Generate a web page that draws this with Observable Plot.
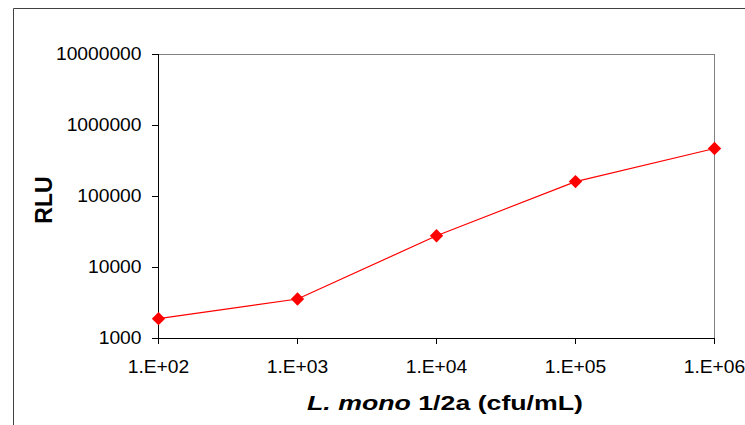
<!DOCTYPE html>
<html><head><meta charset="utf-8">
<script src="https://cdn.jsdelivr.net/npm/d3@7"></script>
<script src="https://cdn.jsdelivr.net/npm/@observablehq/plot@0.6"></script>
<style>
body{margin:0;background:#fff;overflow:hidden}
svg text{font-family:"Liberation Sans",Arial,sans-serif}
</style>
</head><body><div id="chart"></div>
<script>
const concentrations = [1e2, 1e3, 1e4, 1e5, 1e6];
const rluValues = [1900, 3600, 28000, 162000, 474000];
const xTicks = [1e2, 1e3, 1e4, 1e5, 1e6];
const xTickLabels = ["1.E+02", "1.E+03", "1.E+04", "1.E+05", "1.E+06"];
const yTicks = [1e3, 1e4, 1e5, 1e6, 1e7];
const yTickLabels = ["1000", "10000", "100000", "1000000", "10000000"];
const yTitle = "RLU";
const xTitleItalic = "L. mono";
const xTitleRest = " 1/2a (cfu/mL)";

const data = concentrations.map((c, i) => ({c, rlu: rluValues[i]}));

const plot = Plot.plot({
  width: 745, height: 425,
  marginLeft: 158, marginRight: 31, marginTop: 54, marginBottom: 87,
  style: {fontFamily: "Liberation Sans, Arial, sans-serif", fontSize: "17.5px", color: "#000", background: "#fff"},
  x: {type: "log", domain: [1e2, 1e6]},
  y: {type: "log", domain: [1e3, 1e7]},
  marks: [
    Plot.ruleY([1e7], {stroke: "#808080"}),
    Plot.ruleX([1e6], {stroke: "#808080"}),
    Plot.ruleX([1e2], {stroke: "#000"}),
    Plot.ruleY([1e3], {stroke: "#000"}),
    Plot.axisY({ticks: yTicks, tickFormat: d => yTickLabels[yTicks.indexOf(d)], tickSize: 6, tickPadding: 11, label: null, strokeOpacity: 1}),
    Plot.axisX({ticks: xTicks, tickFormat: d => xTickLabels[xTicks.indexOf(d)], tickSize: 6, tickPadding: 16, label: null, strokeOpacity: 1}),
    Plot.line(data, {x: "c", y: "rlu", stroke: "#ff0000", strokeWidth: 1.2}),
    Plot.dot(data, {x: "c", y: "rlu", symbol: "diamond2", r: 6, fill: "#ff0000", stroke: "none"})
  ]
});

const svg = d3.select(plot);
function stretch(el, s) {
  const x = parseFloat(el.getAttribute("x")) || 0;
  const t = el.getAttribute("transform") || "";
  el.setAttribute("transform", `${t} translate(${x},0) scale(${s},1) translate(${-x},0)`);
}
svg.selectAll('g[aria-label="y-axis tick label"] text, g[aria-label="x-axis tick label"] text').each(function(){ stretch(this, 1.1); });

// outer chart frame
svg.insert("path", ":first-child")
  .attr("d", "M13.5,425V8.5H745")
  .attr("fill", "none").attr("stroke", "#404040").attr("stroke-width", 1);

// y title
svg.append("text")
  .attr("transform", "translate(52,200) rotate(-90)")
  .attr("text-anchor", "middle")
  .attr("font-size", 23).attr("font-weight", "bold").attr("fill", "#000")
  .text(yTitle);

// x title
const xt = svg.append("text")
  .attr("x", 307).attr("y", 410)
  .attr("text-anchor", "start")
  .attr("font-size", 19.5).attr("font-weight", "bold").attr("fill", "#000")
  .attr("textLength", 276).attr("lengthAdjust", "spacingAndGlyphs");
xt.append("tspan").attr("font-style", "italic").text(xTitleItalic);
xt.append("tspan").text(xTitleRest);

document.getElementById("chart").appendChild(plot);
</script>
</body></html>
